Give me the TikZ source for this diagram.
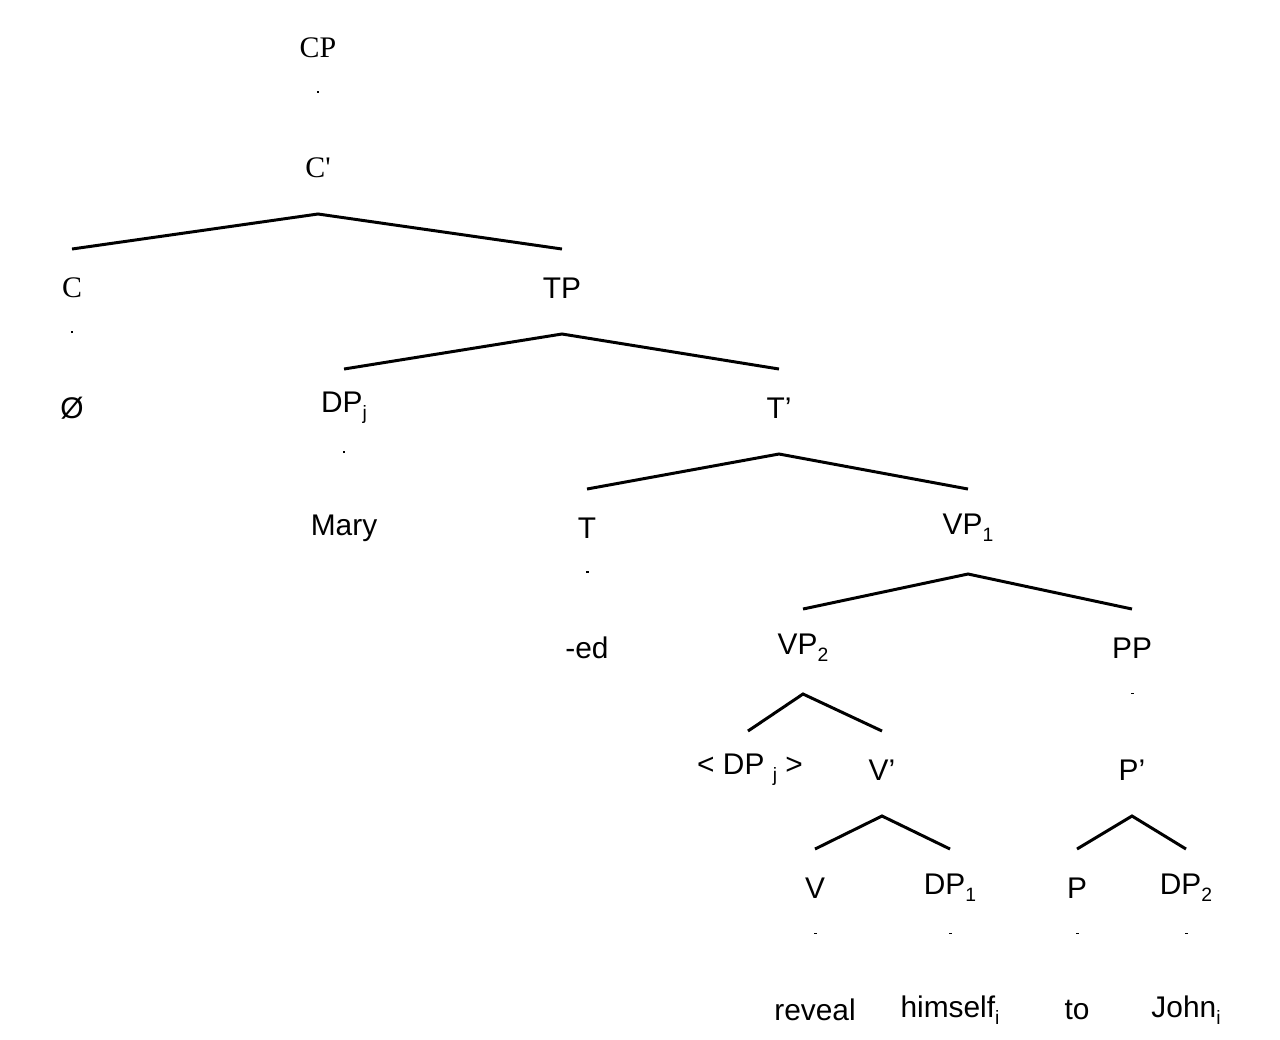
\documentclass[tikz,border=0pt]{standalone}
\usepackage{fontspec}
\setmainfont{Liberation Sans}
\newfontfamily\serf{Liberation Serif}
\newcommand{\sbs}[1]{\raisebox{-0.45ex}{\fontsize{11}{12}\selectfont #1}}
\begin{document}
\begin{tikzpicture}[x=0.02cm,y=-0.02cm,
  lab/.style={inner sep=0pt,font=\fontsize{17}{20}\selectfont},
  slab/.style={inner sep=0pt,font=\serf\fontsize{17}{20}\selectfont},
  br/.style={line width=1.7pt}]
\useasboundingbox (0,0) rectangle (1280,1039);
\node[slab] (cp) at (318,48) {CP};
\node[slab] (cb) at (318,168) {C'};
\node[slab] (c) at (72,288) {C};
\node[lab] (tp) at (562,288) {TP};
\node[lab] (null) at (72,408) {Ø};
\node[lab] (dpj) at (344,408) {DP\sbs{j}};
\node[lab] (tb) at (779,408) {T'};
\node[lab] (mary) at (344,528) {Mary};
\node[lab] (t) at (587,528) {T};
\node[lab] (vp1) at (968,528) {VP\sbs{1}};
\node[lab] (ed) at (587,648) {-ed};
\node[lab] (vp2) at (803,648) {VP\sbs{2}};
\node[lab] (pp) at (1132,648) {PP};
\node[lab] (trace) at (750,770) {< DP \sbs{j} >};
\node[lab] (vb) at (882,770) {V'};
\node[lab] (pb) at (1132,770) {P'};
\node[lab] (v) at (815,888) {V};
\node[lab] (dp1) at (950,888) {DP\sbs{1}};
\node[lab] (p) at (1077,888) {P};
\node[lab] (dp2) at (1186,888) {DP\sbs{2}};
\node[lab] (reveal) at (815,1010) {reveal};
\node[lab] (himself) at (950,1010) {himself\sbs{i}};
\node[lab] (to) at (1077,1010) {to};
\node[lab] (john) at (1186,1010) {John\sbs{i}};
% unary
\foreach \a/\b in {cp/cb,c/null,dpj/mary,t/ed,pp/pb,v/reveal,dp1/himself,p/to,dp2/john}
  \draw[br] ([yshift=-0.9cm]\a.center) -- ([yshift=1.55cm]\b.center);
% binary
\foreach \a/\l/\r in {cb/c/tp,tp/dpj/tb,tb/t/vp1,vp1/vp2/pp,vb/v/dp1,pb/p/dp2}
  \draw[br] ([yshift=0.78cm]\l.center) -- ([yshift=-0.92cm]\a.center) -- ([yshift=0.78cm]\r.center);
\draw[br] ([xshift=-0.04cm,yshift=0.78cm]trace.center) -- ([yshift=-0.92cm]vp2.center) -- ([yshift=0.78cm]vb.center);
\end{tikzpicture}
\end{document}
